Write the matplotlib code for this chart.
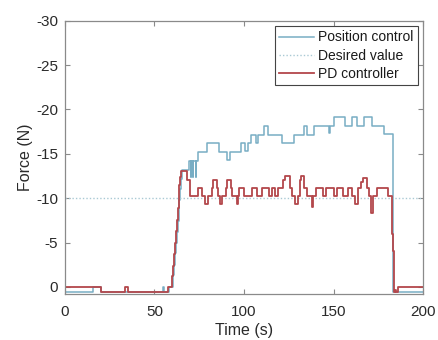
import matplotlib
matplotlib.use("Agg")
import matplotlib.pyplot as plt

# ---- data ----
pos_t = [0, 15.6, 20, 54.7, 55.3, 58, 60.5, 61, 61.5, 62, 62.5, 63, 63.5, 64, 64.5, 65, 65.5,
         69.4, 70.2, 70.5, 71.5, 71.8, 73.0, 73.3, 74.5, 79.3, 86, 90.6, 92.2,
         98.3, 100.5, 102.4, 103.9, 106.5, 108, 111.3, 113.4, 121.4, 128.2,
         133.3, 135.2, 139.1, 147.5, 148.1, 150.2, 156.4, 160.5, 163.3, 167,
         171.7, 178.2, 183.4, 200]
pos_f = [0.6, 0, 0.6, 0, 0.6, 0, -1.3, -2.5, -3.8, -5, -6.2, -7.4, -8.6, -9.8, -11, -12.2, -13.2,
         -14.2, -12.4, -14.2, -12.4, -14.2, -12.4, -14.2, -15.2, -16.2, -15.2, -14.3, -15.2,
         -16.2, -15.3, -16.2, -17.1, -16.2, -17.1, -18.1, -17.1, -16.2, -17.1,
         -18.1, -17.1, -18.1, -17.3, -18.1, -19.1, -18.1, -19.1, -18.1, -19.1,
         -18.1, -17.2, 0.6, 0.6]

pd_t = [0, 20, 33.5, 35.5, 57.5, 60, 60.5, 61, 61.5, 62, 62.5, 63, 63.5, 64, 64.5, 65,
        68.3, 69.7, 74.5,
        76.5, 78.2, 79.9, 82, 82.7, 84.7, 85.5, 86.4, 87.9, 90, 90.8, 92.6,
        93.2, 95.9, 96.8, 97.2, 100, 104.6, 107.4, 110.2, 113.9, 115.8, 117.5,
        119.2, 121.8, 122.9, 125.5, 127, 128.5, 130.2, 131, 131.8, 133.5, 135,
        137.8, 138.8, 140.3, 144, 146, 150, 151.8, 155.5, 158, 160.5, 161.8,
        163.5, 165.5, 166.7, 168.6, 169.8, 170.8, 172.3, 174.2, 180.5, 182.6,
        182.9, 183.2, 183.5, 183.8, 184.5, 185, 186.2, 200]
pd_f = [0, 0.6, 0, 0.6, 0, -1.2, -2.4, -3.7, -5, -6.3, -7.6, -8.9, -10.2, -11.5, -12.4, -13.1,
        -12.1, -10.3, -11.2,
        -10.3, -9.3, -10.3, -11.2, -12.1, -11.2, -10.3, -9.3, -10.3, -11.2, -12.1, -11.2,
        -10.3, -9.3, -10.3, -11.2, -10.3, -11.2, -10.3, -11.2, -10.3, -11.2, -10.3,
        -11.2, -12.1, -12.5, -11.2, -10.3, -9.3, -10.3, -12.1, -12.5, -11.2, -10.3,
        -9.0, -10.3, -11.2, -10.3, -11.2, -10.3, -11.2, -10.3, -11.2, -10.3, -9.3,
        -11.2, -11.8, -12.3, -11.2, -10.3, -8.3, -10.3, -11.2, -10.3, -8,
        -6, -4, -2, 0.6, 0.3, 0.6, 0, 0]

desired_value = -10
x_ticks = [0, 50, 100, 150, 200]
y_ticks = [-30, -25, -20, -15, -10, -5, 0]

labels = ["Position control", "Desired value", "PD controller"]

# ---- figure ----
plt.rcParams['font.family'] = ['Liberation Sans', 'DejaVu Sans']
fig = plt.figure(figsize=(4.38, 3.40), dpi=100)
ax = fig.add_axes([0.148, 0.135, 0.818, 0.804])

c_pos = '#78adc4'
c_des = '#a9c9d4'
c_pd = '#b3474b'

ax.plot(pos_t, pos_f, drawstyle='steps-post', color=c_pos, lw=1.1, label=labels[0])
ax.plot([0, 200], [desired_value, desired_value], color=c_des, lw=1.0,
        linestyle=(0, (1, 1.5)), label=labels[1])
ax.plot(pd_t, pd_f, drawstyle='steps-post', color=c_pd, lw=1.3, label=labels[2])

ax.set_xlim(0, 200)
ax.set_ylim(0.8, -30)
ax.set_xticks(x_ticks)
ax.set_yticks(y_ticks)
ax.set_xticklabels([str(v) for v in x_ticks])
ax.set_yticklabels([str(v) for v in y_ticks])

for s in ax.spines.values():
    s.set_color('#8a8a8a')
    s.set_linewidth(0.9)
ax.tick_params(direction='in', length=3.5, width=0.8, color='#8a8a8a',
               labelsize=11, labelcolor='#2a2a2a', top=True, right=True)
ax.tick_params(axis='x', pad=8)
ax.tick_params(axis='y', pad=5)

ax.set_xlabel('Time (s)', fontsize=11.5, color='#2a2a2a', labelpad=3)
ax.set_ylabel('Force (N)', fontsize=11.5, color='#2a2a2a', labelpad=2)

leg = ax.legend(loc='upper right', fontsize=10, handlelength=2.5, handletextpad=0.3,
                labelspacing=0.3, borderpad=0.3, fancybox=False, framealpha=1,
                borderaxespad=0.4)
leg.get_frame().set_edgecolor('#444444')
leg.get_frame().set_linewidth(0.8)
for t in leg.get_texts():
    t.set_color('#1a1a1a')

fig.savefig('out.png', dpi=100)
